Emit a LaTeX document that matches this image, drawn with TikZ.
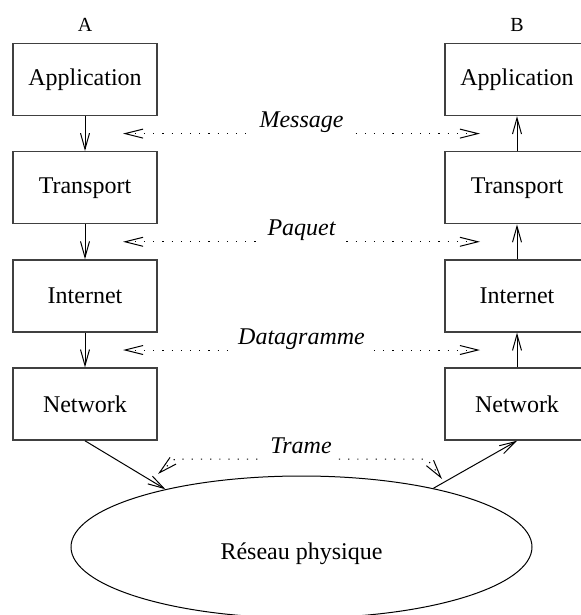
\documentclass[tikz,border=0pt]{standalone}
\usepackage{fontspec}
\setmainfont{Liberation Serif}
\usetikzlibrary{calc, positioning, shapes.geometric, arrows.meta}

\begin{document}
\begin{tikzpicture}[x=0.5pt, y=-0.5pt, line width=0.5pt,
    layer/.style={draw=black!75, line width=0.7pt, minimum width=72pt, minimum height=36pt,
        font=\fontsize{12}{14}\selectfont},
    host/.style={inner sep=0pt, font=\fontsize{10}{12}\selectfont},
    pdu/.style={fill=white, anchor=base, yshift=3pt, font=\fontsize{12}{14}\selectfont\itshape},
    link/.style={-{Straight Barb[length=8pt, width=4.5pt]}},
    peer/.style={dash pattern=on 0.6pt off 4pt,
        {Straight Barb[length=9pt, width=4.5pt]}-{Straight Barb[length=9pt, width=4.5pt]}}]

    \useasboundingbox (0,0) rectangle (581,615);
    \clip (0,0) rectangle (581,615);

    % protocol stacks
    \foreach \name/\txt [count=\i from 0] in {app/Application, trans/Transport, inet/Internet, net/Network} {
        \node (\name A) [layer] at (85, 79.5+108.2*\i) {\txt};
        \node (\name B) [layer] at (517, 79.5+108.2*\i) {\txt};
    }
    \node (hostA) [host, above=5.5pt of appA] {A};
    \node (hostB) [host, above=5.5pt of appB] {B};

    \node (phys) [draw, ellipse, inner sep=0pt, minimum width=230.5pt, minimum height=71pt,
        text height=12pt, text depth=0pt, font=\fontsize{12}{14}\selectfont] at (301.5, 547) {Réseau physique};

    % vertical links
    \draw [link] (appA) -- (transA);
    \draw [link] (transA) -- (inetA);
    \draw [link] (inetA) -- (netA);
    \draw [link] (netB) -- (inetB);
    \draw [link] (inetB) -- (transB);
    \draw [link] (transB) -- (appB);
    \draw [link] (netA.south) -- (phys.157);
    \draw [link] (phys.24) -- (netB.south);

    % peer exchanges
    \foreach \lo/\hi/\txt in {app/trans/Message, trans/inet/Paquet, inet/net/Datagramme} {
        \coordinate (\lo L) at ($(\lo A.south)!.5!(\hi A.north) + (38,0)$);
        \coordinate (\lo R) at ($(\lo B.south)!.5!(\hi B.north) + (-37,0)$);
        \draw [peer] (\lo L) -- node [pdu] {\txt} (\lo R);
    }
    \coordinate (trameL) at (158,474);
    \coordinate (trameLc) at (175,459);
    \coordinate (trameRc) at (427,459);
    \coordinate (trameR) at (442,479);
    \draw [peer] (trameL) -- (trameLc) -- node [pdu] {Trame} (trameRc) -- (trameR);
\end{tikzpicture}
\end{document}
